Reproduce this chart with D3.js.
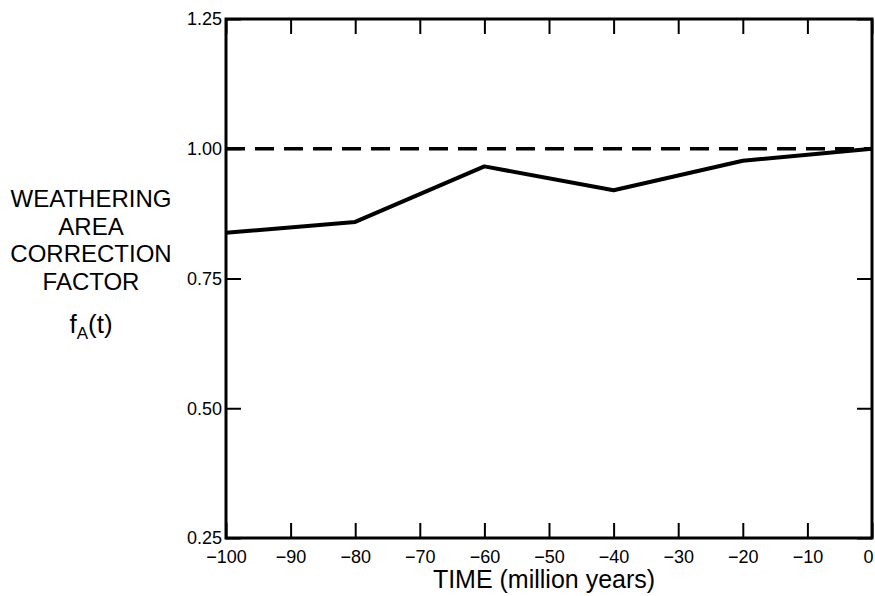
<!DOCTYPE html>
<html>
<head>
<meta charset="utf-8">
<script src="https://cdn.jsdelivr.net/npm/d3@7"></script>
<style>
  body { margin: 0; background: #fff; }
  text { font-family: "Liberation Sans", Arial, sans-serif; fill: #000; }
</style>
</head>
<body>
<script>
// time in million years, and weathering area correction factor
var years = [-100, -80, -60, -40, -20, 0];
var factor = [0.838, 0.859, 0.966, 0.920, 0.977, 1.0];
var referenceLevel = 1.0;
var xTicks = [-100, -90, -80, -70, -60, -50, -40, -30, -20, -10, 0];
var yTicks = [0.25, 0.50, 0.75, 1.00, 1.25];
var yLabelLines = ["WEATHERING", "AREA", "CORRECTION", "FACTOR"];

var width = 875, height = 596;
var margin = {left: 226, right: 3, top: 19, bottom: 58};

var svg = d3.select("body").append("svg")
            .attr("width", width)
            .attr("height", height);

var x = d3.scaleLinear().domain([-100, 0]).range([margin.left, width - margin.right]);
var y = d3.scaleLinear().domain([0.25, 1.25]).range([height - margin.bottom, margin.top]);

// bottom axis, ticks pointing inward
var bottomAxis = svg.append("g")
    .attr("transform", "translate(0," + y(0.25) + ")")
    .call(d3.axisBottom(x).tickValues(xTicks).tickSize(-15).tickSizeOuter(0).tickPadding(12));
bottomAxis.selectAll("text")
    .attr("font-size", 18)
    .attr("dx", function (d) { return d === 0 ? -4 : 0; });

var topAxis = svg.append("g")
    .attr("transform", "translate(0," + y(1.25) + ")")
    .call(d3.axisTop(x).tickValues(xTicks).tickSize(-15).tickSizeOuter(0));
topAxis.selectAll("text").remove();

var leftAxis = svg.append("g")
    .attr("transform", "translate(" + x(-100) + ",0)")
    .call(d3.axisLeft(y).tickValues(yTicks).tickFormat(d3.format(".2f")).tickSize(-15).tickSizeOuter(0).tickPadding(4));
leftAxis.selectAll("text").attr("font-size", 18);

var rightAxis = svg.append("g")
    .attr("transform", "translate(" + x(0) + ",0)")
    .call(d3.axisRight(y).tickValues(yTicks).tickSize(-15).tickSizeOuter(0));
rightAxis.selectAll("text").remove();

svg.selectAll(".domain").remove();
svg.selectAll(".tick line").attr("stroke", "#000").attr("stroke-width", 2);

// frame
svg.append("rect")
   .attr("x", x(-100))
   .attr("y", y(1.25))
   .attr("width", x(0) - x(-100))
   .attr("height", y(0.25) - y(1.25))
   .attr("fill", "none")
   .attr("stroke", "#000")
   .attr("stroke-width", 3);

// dashed reference line
svg.append("line")
   .attr("x1", x(-100))
   .attr("x2", x(0))
   .attr("y1", y(referenceLevel))
   .attr("y2", y(referenceLevel))
   .attr("stroke", "#000")
   .attr("stroke-width", 3.5)
   .attr("stroke-dasharray", "19,10");

var line = d3.line()
    .x(function (d, i) { return x(years[i]); })
    .y(function (d) { return y(d); });

svg.append("path")
   .datum(factor)
   .attr("d", line)
   .attr("fill", "none")
   .attr("stroke", "#000")
   .attr("stroke-width", 4)
   .attr("stroke-linejoin", "round");

// y label
svg.selectAll(".ylab")
   .data(yLabelLines)
   .enter().append("text")
   .attr("class", "ylab")
   .attr("x", 91)
   .attr("y", function (d, i) { return 207 + i * 27.5; })
   .attr("text-anchor", "middle")
   .attr("font-size", 24)
   .text(function (d) { return d; });

var fa = svg.append("text")
   .attr("x", 91)
   .attr("y", 333)
   .attr("text-anchor", "middle")
   .attr("font-size", 26);
fa.append("tspan").text("f");
fa.append("tspan").attr("font-size", 17).attr("dy", 6).text("A");
fa.append("tspan").attr("dy", -6).text("(t)");

// x label
svg.append("text")
   .attr("x", (x(-100) + x(0)) / 2 - 5)
   .attr("y", 588)
   .attr("text-anchor", "middle")
   .attr("font-size", 25)
   .text("TIME (million years)");
</script>
</body>
</html>
